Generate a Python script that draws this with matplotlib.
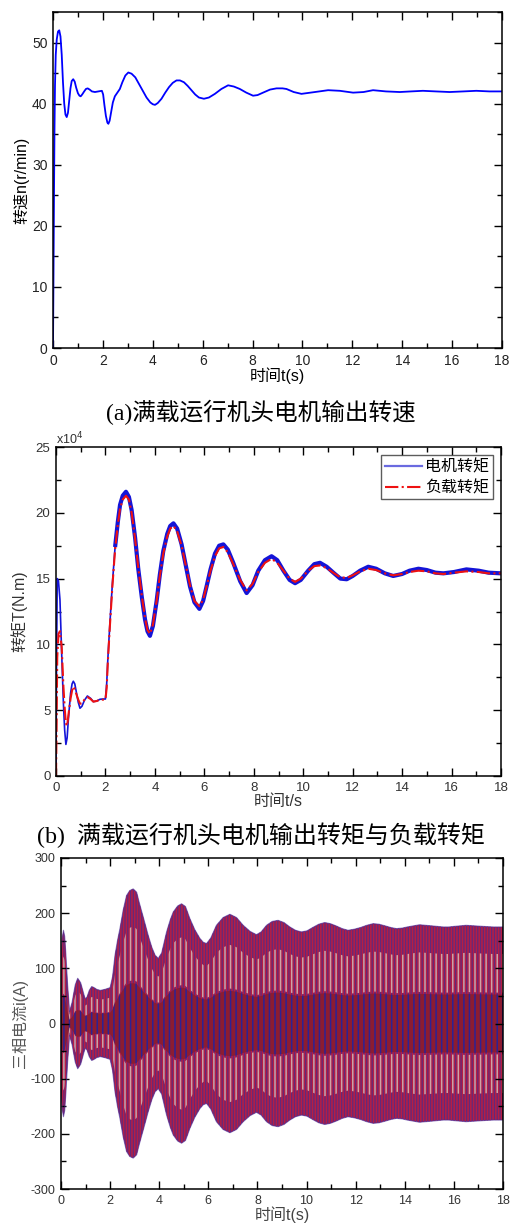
import numpy as np
import matplotlib
matplotlib.use("Agg")
import matplotlib.pyplot as plt
from matplotlib.ticker import MultipleLocator

# ---------- data ----------

# (a) motor output speed, r/min
speed_t = [0, 0.02, 0.04, 0.06, 0.08, 0.11, 0.15, 0.2, 0.25, 0.3, 0.35, 0.4, 0.45, 0.5,
           0.55, 0.6, 0.65, 0.7, 0.75, 0.81, 0.87, 0.93, 1.0, 1.06, 1.11, 1.17, 1.25, 1.32,
           1.39, 1.47, 1.56, 1.68, 1.82, 1.96, 2.01, 2.06, 2.12, 2.18, 2.22, 2.27, 2.33, 2.4,
           2.48, 2.58, 2.68, 2.78, 2.9, 3.02, 3.15, 3.3, 3.45, 3.6, 3.75, 3.9, 4.0, 4.09, 4.2,
           4.35, 4.5, 4.65, 4.8, 4.95, 5.09, 5.25, 5.4, 5.55, 5.7, 5.85, 6.05, 6.25, 6.49,
           6.75, 7.02, 7.25, 7.49, 7.75, 8.02, 8.2, 8.42, 8.7, 8.96, 9.2, 9.36, 9.65, 9.96,
           10.5, 11.03, 11.5, 12.03, 12.45, 12.83, 13.35, 13.9, 14.35, 14.83, 15.35, 15.9,
           16.45, 16.97, 17.5, 18]
speed_n = [0, 12, 25, 36, 43, 48, 50.5, 51.8, 52.0, 51.0, 48.0, 43.5, 40.0, 38.2,
           37.8, 38.5, 40.5, 42.5, 43.7, 44.0, 43.6, 42.6, 41.7, 41.3, 41.2, 41.5, 42.0, 42.4,
           42.5, 42.3, 42.0, 41.9, 42.0, 42.1, 41.5, 39.8, 38.0, 36.9, 36.7, 37.2, 38.6, 40.2,
           41.2, 41.8, 42.4, 43.5, 44.6, 45.1, 44.9, 44.3, 43.2, 42.1, 41.0, 40.2, 39.9, 39.8, 40.1,
           40.8, 41.8, 42.7, 43.4, 43.8, 43.8, 43.5, 42.9, 42.2, 41.5, 41.0, 40.8, 41.0, 41.6,
           42.4, 43.0, 42.8, 42.4, 41.8, 41.3, 41.4, 41.8, 42.3, 42.5, 42.5, 42.4, 41.9, 41.6,
           41.9, 42.2, 42.1, 41.8, 41.9, 42.2, 42.0, 41.9, 42.0, 42.1, 42.0, 41.9,
           42.0, 42.1, 42.0, 42.0]

# (b) motor torque and load torque, x10^4 N.m
torque_t = [0, 0.02, 0.05, 0.1, 0.16, 0.23, 0.3, 0.35, 0.4, 0.45, 0.5, 0.59, 0.65, 0.7,
            0.76, 0.81, 0.9, 0.97, 1.05, 1.15, 1.27, 1.4, 1.51, 1.65, 1.78, 1.9, 2.0, 2.05,
            2.1, 2.18, 2.28, 2.39, 2.5, 2.59, 2.7, 2.83, 2.95, 3.06, 3.2, 3.33, 3.47, 3.6, 3.7,
            3.8, 3.92, 4.07, 4.2, 4.34, 4.5, 4.62, 4.75, 4.9, 5.08, 5.25, 5.42, 5.6, 5.8, 5.95,
            6.09, 6.25, 6.43, 6.6, 6.77, 6.95, 7.17, 7.45, 7.71, 7.95, 8.18, 8.45, 8.72, 8.95,
            9.2, 9.45, 9.67, 9.9, 10.2, 10.45, 10.68, 10.95, 11.25, 11.5, 11.76, 12.0, 12.3,
            12.63, 12.95, 13.3, 13.64, 14.0, 14.3, 14.66, 15.0, 15.35, 15.67, 16.1, 16.6, 17.1,
            17.5, 18]
motor_torque = [0, 8, 15.0, 14.8, 13.4, 9.3, 5.5, 3.5, 2.4, 2.9, 4.3, 6.3, 7.0, 7.2,
                7.0, 6.5, 5.6, 5.15, 5.3, 5.75, 6.08, 5.9, 5.65, 5.7, 5.83, 5.85, 5.85, 7.0,
                9.0, 11.6, 14.6, 17.4, 19.3, 20.6, 21.3, 21.6, 21.2, 20.2, 18.1, 15.7, 13.6, 11.9, 11.0,
                10.65, 11.4, 13.3, 15.3, 17.1, 18.4, 19.0, 19.2, 18.8, 17.6, 16.0, 14.4, 13.2, 12.7, 13.3,
                14.4, 15.7, 16.9, 17.5, 17.6, 17.2, 16.2, 14.8, 13.9, 14.5, 15.6, 16.4, 16.7, 16.4,
                15.6, 14.9, 14.65, 14.9, 15.6, 16.1, 16.2, 15.9, 15.4, 15.0, 14.95, 15.2, 15.6,
                15.9, 15.75, 15.4, 15.2, 15.35, 15.6, 15.75, 15.65, 15.45, 15.4, 15.5, 15.7, 15.6,
                15.45, 15.4]
load_torque = [0, 3, 9.0, 10.8, 11.0, 9.8, 6.8, 5.2, 4.0, 3.8, 4.6, 5.9, 6.5, 6.8,
               6.6, 6.3, 5.8, 5.5, 5.5, 5.8, 6.0, 5.85, 5.65, 5.7, 5.8, 5.8, 5.8, 6.7,
               8.8, 11.4, 14.4, 17.2, 19.1, 20.3, 21.0, 21.3, 21.0, 20.0, 18.0, 15.8, 13.7, 12.0, 11.1,
               10.8, 11.5, 13.3, 15.2, 16.9, 18.2, 18.8, 19.0, 18.6, 17.5, 16.0, 14.5, 13.3, 12.9, 13.4,
               14.4, 15.6, 16.7, 17.3, 17.4, 17.0, 16.1, 14.9, 14.1, 14.6, 15.5, 16.2, 16.5, 16.2,
               15.6, 15.0, 14.75, 15.0, 15.6, 15.95, 16.0, 15.8, 15.4, 15.1, 15.05, 15.25, 15.55,
               15.75, 15.65, 15.4, 15.25, 15.35, 15.5, 15.6, 15.55, 15.4, 15.35, 15.45, 15.55, 15.5,
               15.4, 15.4]
torque_names = ["电机转矩", "负载转矩"]

# (c) three-phase current, envelope of the band (A)
current_t = [0, 0.05, 0.1, 0.15, 0.2, 0.27, 0.35, 0.45, 0.58, 0.68, 0.8, 0.9, 0.98, 1.06,
             1.15, 1.25, 1.35, 1.45, 1.6, 1.8, 2.0, 2.1, 2.2, 2.3, 2.4, 2.53, 2.67, 2.8, 2.94,
             3.08, 3.2, 3.38, 3.55, 3.7, 3.83, 3.96, 4.1, 4.3, 4.45, 4.57, 4.75, 4.91, 5.07,
             5.25, 5.45, 5.66, 5.8, 5.93, 6.1, 6.33, 6.6, 6.88, 7.15, 7.42, 7.7, 7.96, 8.15,
             8.37, 8.6, 8.84, 9.08, 9.32, 9.55, 9.79, 10.02, 10.25, 10.5, 10.74, 10.97, 11.2,
             11.45, 11.69, 11.95, 12.2, 12.45, 12.71, 12.95, 13.2, 13.43, 13.66, 13.9, 14.1,
             14.35, 14.6, 14.85, 15.1, 15.33, 15.56, 15.8, 16.0, 16.25, 16.5, 16.85, 17.2,
             17.6, 18]
current_amp = [120, 155, 169, 158, 125, 70, 22, 38, 70, 82, 74, 58, 45, 48,
               60, 67, 65, 62, 60, 62, 65, 85, 124, 150, 172, 205, 232, 241, 244,
               238, 217, 188, 160, 138, 124, 118, 128, 166, 188, 202, 213, 217, 212,
               190, 170, 154, 147, 145, 155, 178, 192, 198, 192, 178, 167, 161, 166,
               178, 185, 187, 183, 175, 169, 166, 168, 174, 180, 183, 181, 177,
               172, 169, 171, 174, 178, 181, 180, 177, 174, 172, 173, 175,
               177, 179, 178, 177, 176, 175, 175, 176, 177, 178, 177, 176,
               175, 175]

x_ticks = list(range(0, 19, 2))

# ---------- style ----------
plt.rcParams['font.family'] = ['Liberation Sans', 'Noto Sans CJK SC']
plt.rcParams['axes.unicode_minus'] = False
plt.rcParams['hatch.linewidth'] = 1.1

W, H = 511, 1227
fig = plt.figure(figsize=(W / 100, H / 100), dpi=100)


def add_panel(left, top, right, bottom):
    return fig.add_axes([left / W, 1 - bottom / H, (right - left) / W, (bottom - top) / H])


def style(ax, ymajor, yminor, tick_color, size):
    ax.set_xlim(0, 18)
    ax.set_xticks(x_ticks)
    ax.xaxis.set_minor_locator(MultipleLocator(1))
    ax.yaxis.set_major_locator(MultipleLocator(ymajor))
    ax.yaxis.set_minor_locator(MultipleLocator(yminor))
    ax.tick_params(which='both', direction='in', top=True, right=True,
                   labelsize=size, labelcolor=tick_color, width=1.0)
    ax.tick_params(which='major', length=6, pad=4)
    ax.tick_params(which='minor', length=3.5)
    for s in ax.spines.values():
        s.set_linewidth(1.1)


# ---------- (a) speed ----------
ax1 = add_panel(53, 12, 502, 348)
ax1.plot(speed_t, speed_n, color='#0000ff', lw=1.3)
ax1.set_ylim(0, 55)
ax1.set_yticks(range(0, 51, 10))
style(ax1, 10, 5, '#222222', 10)
ax1.set_xlabel('时间t(s)', fontsize=11.5, labelpad=0)
ax1.set_ylabel('转速n(r/min)', fontsize=11.5, labelpad=2)
fig.text(0.511, 1 - 412 / H, '(a)满载运行机头电机输出转速', ha='center', va='center',
         fontsize=17, family=['Liberation Serif', 'Noto Sans CJK SC'])

# ---------- (b) torque ----------
ax2 = add_panel(56, 447, 501, 776)
tt = np.array(torque_t)
mt = np.array(motor_torque)
ax2.plot(tt, mt, color='#1414d8', lw=1.2, label=torque_names[0])
thick = tt >= 2.3
ax2.plot(tt[thick], mt[thick], color='#1414d8', lw=3.0, solid_capstyle='butt')
ax2.plot(torque_t, load_torque, color='#ee1111', lw=1.5, ls='-.', label=torque_names[1])
ax2.set_ylim(0, 25)
style(ax2, 5, 2.5, '#333333', 9.5)
ax2.set_xlabel('时间t/s', fontsize=11.5, labelpad=0, color='#333333')
ax2.set_ylabel('转矩T(N.m)', fontsize=11.5, labelpad=6, color='#333333')
ax2.text(0.0, 1.0, r'x10$^{4}$', transform=ax2.transAxes, ha='left', va='bottom',
         fontsize=9, color='#333333')
leg = ax2.legend(loc='upper right', fontsize=11.5, frameon=True, fancybox=False,
                 edgecolor='#333333', borderpad=0.25, handlelength=2.3, handletextpad=0.2,
                 labelspacing=0.35, borderaxespad=0.5)
leg.get_frame().set_linewidth(1.0)
leg.get_lines()[0].set_color('#6a6ae0')
leg.get_lines()[0].set_linewidth(1.6)
fig.text(0.511, 1 - 835 / H, '(b)  满载运行机头电机输出转矩与负载转矩', ha='center', va='center',
         fontsize=17.3, family=['Liberation Serif', 'Noto Sans CJK SC'])

# ---------- (c) three-phase current ----------
ax3 = add_panel(61, 858, 503, 1189)
ct = np.array(current_t)
ca = np.array(current_amp)
ax3.fill_between(ct, -ca, ca, facecolor='#62297c', edgecolor='none', lw=0)
ax3.fill_between(ct, -ca, ca, facecolor='none', hatch='||||||', edgecolor='#b51e44', lw=0)
ax3.fill_between(ct, -0.3 * ca, 0.3 * ca, facecolor='#8c1c32', edgecolor='none', lw=0)
ax3.fill_between(ct, -0.3 * ca, 0.3 * ca, facecolor='none', hatch='|||', edgecolor='#2c2296', lw=0)
ax3.fill_between(ct, 0.32 * ca, 0.72 * ca, facecolor='none', hatch='|||', edgecolor='#cfa3a6', lw=0)
ax3.fill_between(ct, -0.72 * ca, -0.32 * ca, facecolor='none', hatch='|||', edgecolor='#cfa3a6', lw=0)
ax3.plot(ct, ca, color='#4a2a9a', lw=0.8, alpha=0.6)
ax3.plot(ct, -ca, color='#4a2a9a', lw=0.8, alpha=0.6)
ax3.set_ylim(-300, 300)
style(ax3, 100, 50, '#333333', 9)
ax3.set_xlabel('时间t(s)', fontsize=11.5, labelpad=0, color='#444444')
ax3.set_ylabel('三相电流i(A)', fontsize=11.5, labelpad=2, color='#555555')

fig.savefig('out.png', dpi=100)
